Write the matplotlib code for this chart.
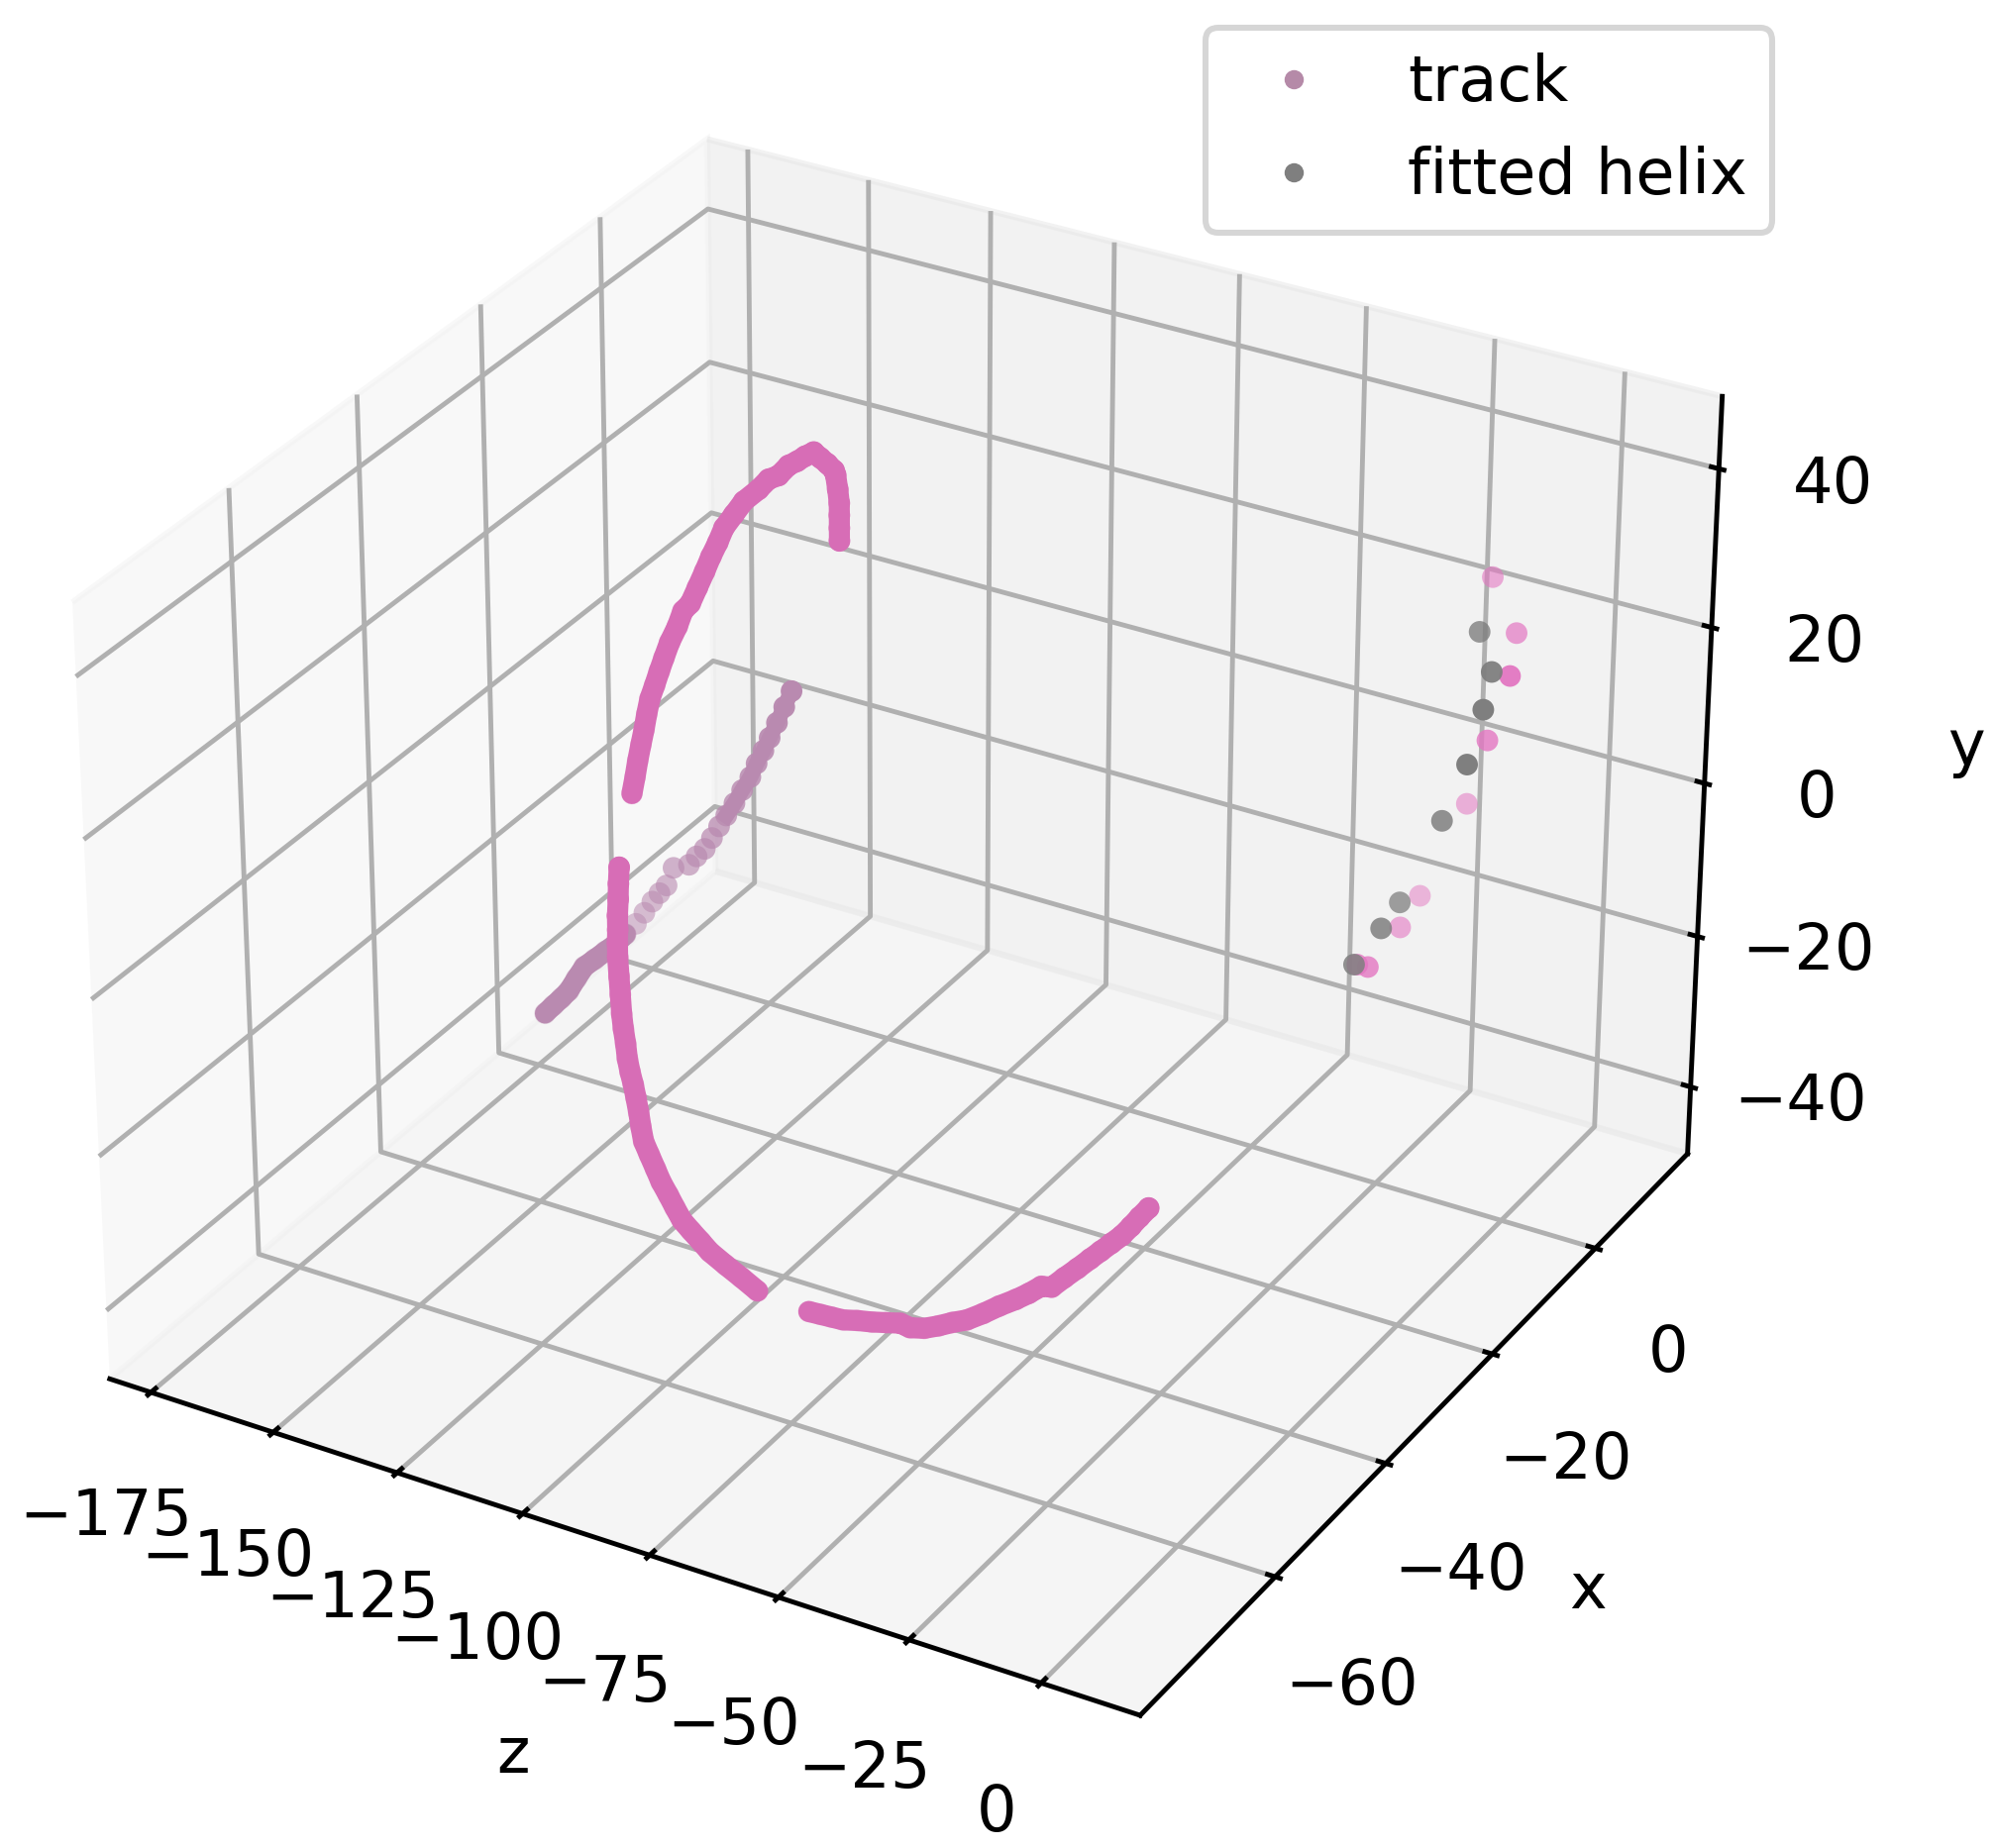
import matplotlib
matplotlib.use('Agg')
import matplotlib.pyplot as plt
from matplotlib.lines import Line2D

# values, depth along x is a rough estimate
upper_z = [-106.3, -106.3, -106.3, -106.3, -106.6, -107, -107.3, -108.6, -110, -111.3, -113, -114.6, -116.3, -118.3,
           -120.3, -122.3, -125.3, -127.3, -129.3, -130.6, -132, -133.3, -134.8, -136.3, -137.8, -139, -140.6,
           -141.8, -142.8, -143.8, -144.8, -145.5, -146.1, -146.8, -147.5, -148.1, -148.8]
upper_y = [34.8, 36.4, 38, 39.5, 41.2, 42.9, 43.4, 44, 44.5, 45, 44.2, 43.3, 42.5, 40.9,
           40.1, 38.5, 36.5, 34.5, 32.5, 30.4, 28.4, 26.3, 24, 21.7, 20.5, 18.3, 16,
           13.8, 11.9, 9.9, 8, 5.9, 3.8, 1.7, -0.5, -2.7, -5]
upper_x = -24.4

lower_z = [-116.5, -116.7, -116.8, -117, -117, -117.1, -117.1, -116.9, -116.7, -116.5, -116.2, -115.8, -115.5, -115,
           -114.4, -113.9, -113.4, -113, -112.5, -111.4, -110.2, -109.1, -107.7, -106.4, -105, -103.2, -101.3, -99.5,
           -96.3, -93.2, -90]
lower_y = [9.5, 7.4, 5.4, 3.3, 1.5, -0.2, -2, -4.4, -6.7, -9.1, -11, -12.8, -14.7, -16.3,
           -17.8, -19.4, -21.2, -23, -24.8, -26.3, -27.9, -29.4, -30.8, -32.2, -33.6, -34.6, -35.6, -36.6,
           -37.7, -38.7, -39.8]
lower_x = -52.9

tail_z = [-79.8, -77.5, -75.3, -73, -70.2, -67.3, -64.5, -61.7, -59.8, -57, -54.2, -51.5, -48.7, -45.5, -42.4, -39.2,
          -36.7, -34.3, -32.3, -29.9, -27.4, -25, -23, -21, -19, -17.3, -15.7, -14]
tail_y = [-40.4, -40.3, -40.2, -40.1, -39.6, -39.2, -38.7, -38.2, -38.4, -37.9, -37, -36, -35.1, -33.6, -32, -30.5,
          -29.2, -27.8, -27.5, -25.8, -24.1, -22.4, -21, -19.6, -18.2, -16.7, -15.2, -13.7]
tail_x = -52.9

back_z = [-118.5, -120, -121.5, -123, -124.3, -125.7, -127, -128.7, -130.3, -132, -133.5, -135, -136.5, -138.2,
          -139.8, -143, -144.5, -146, -147.5, -149.2, -151, -153.2, -155.3, -157.5, -159.8, -162, -163.7, -165.4,
          -167, -168.7, -170.5]
back_y = [12.4, 10.1, 7.8, 5.6, 3.7, 1.8, -0.2, -2.2, -4.2, -6.1, -7.8, -9.6, -11.3, -12.6,
          -14, -15, -17.6, -18.9, -20.3, -22.1, -23.9, -25.7, -27.4, -28.8, -30.3, -31.7, -33.6, -35.6,
          -36.9, -38.2, -39.6]
back_x = -22.3

# short piece near z = 0
near_z = -3.5
near_track_x = [-2.4, 2.6, 1.6, -2.4, -6, -14.5, -18.1, -24, -26]
near_track_y = [35, 25, 20.2, 14.5, 8.7, 2.4, 0.7, -0.5, 1.1]
near_helix_x = [-4.6, -2, -3.4, -6.2, -10.7, -18.3, -21.7, -26.6]
near_helix_y = [29.5, 22.9, 19, 13.8, 9.5, 4, 2.9, 1.5]

z_ticks = [-175, -150, -125, -100, -75, -50, -25, 0]
x_ticks = [-60, -40, -20, 0]
y_ticks = [-40, -20, 0, 20, 40]

track_col = '#e377c2'
main_col = '#d76db6'
helix_col = '#7f7f7f'
back_col = '#b98ab0'
dot = 13
near_track_alpha = [0.95, 0.8, 0.7, 0.55, 0.5, 0.6, 0.6, 0.8, 0.8]
near_helix_alpha = [1, 1, 0.95, 0.85, 0.8, 0.75, 0.85, 0.85]

plt.rcParams['font.size'] = 10.5

dpi = 437
fig = plt.figure(figsize=(2015 / dpi, 1866 / dpi), dpi=dpi)
ax = fig.add_axes([-0.0144, 0.0091, 0.919, 0.9925], projection='3d')
ax.computed_zorder = False

# z goes on the long front axis, x on the right one, y stands upright
ax.plot(back_z[:10], [back_x] * 10, back_y[:10], color=back_col, lw=2.6, zorder=4)
ax.plot(back_z[21:], [back_x] * 10, back_y[21:], color=back_col, lw=3.4, solid_capstyle='round', zorder=4)
ax.scatter(back_z, [back_x] * len(back_z), back_y, s=dot, c=back_col, linewidths=0, zorder=4)

ax.scatter([near_z] * len(near_track_x), near_track_x, near_track_y, s=dot, c=track_col, alpha=near_track_alpha,
           linewidths=0, zorder=5)
ax.scatter([near_z] * len(near_helix_x), near_helix_x, near_helix_y, s=dot, c=helix_col, alpha=near_helix_alpha,
           linewidths=0, zorder=6)

ax.plot(upper_z, [upper_x] * len(upper_z), upper_y, color=main_col, lw=3.5, solid_capstyle='round', zorder=7)
ax.plot(lower_z, [lower_x] * len(lower_z), lower_y, color=main_col, lw=3.5, solid_capstyle='round', zorder=7)
ax.plot(tail_z, [tail_x] * len(tail_z), tail_y, color=main_col, lw=3.5, solid_capstyle='round', zorder=7)
ax.scatter(upper_z, [upper_x] * len(upper_z), upper_y, s=dot, c=main_col, linewidths=0, zorder=7)
ax.scatter(lower_z, [lower_x] * len(lower_z), lower_y, s=dot, c=main_col, linewidths=0, zorder=7)
ax.scatter(tail_z, [tail_x] * len(tail_z), tail_y, s=dot, c=main_col, linewidths=0, zorder=7)

ax.set_xlim(-183.5, 18.5, view_margin=0)
ax.set_ylim(-83.5, 18.5, view_margin=0)
ax.set_zlim(-49, 49, view_margin=0)
ax.set_xticks(z_ticks)
ax.set_yticks(x_ticks)
ax.set_zticks(y_ticks)
ax.set_xlabel('z')
ax.set_ylabel('x')
ax.set_zlabel('y', labelpad=6)

for axis in (ax.xaxis, ax.yaxis, ax.zaxis):
    axis._axinfo['tick']['inward_factor'] = 0.06
    axis._axinfo['tick']['outward_factor'] = 0.09

track_handle = Line2D([], [], ls='', marker='o', ms=3.2, mew=0, color='#b58aa8')
helix_handle = Line2D([], [], ls='', marker='o', ms=3.2, mew=0, color=helix_col)
ax.legend([track_handle, helix_handle], ['track', 'fitted helix'], numpoints=1, loc='upper right',
          bbox_to_anchor=(0.888, 0.985), bbox_transform=fig.transFigure, borderaxespad=0)

fig.savefig('out.png', dpi=dpi)
